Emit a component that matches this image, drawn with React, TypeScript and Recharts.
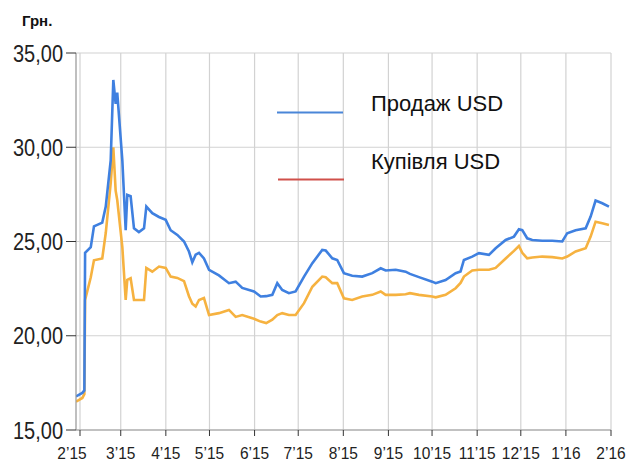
import React from "react";
import { LineChart, Line, XAxis, YAxis, CartesianGrid } from "recharts";

// days since 1 Feb 2015
const days = [
  -2.75, 1.6, 3, 3.5, 7.4, 9.6, 15.3, 17.7, 21.1, 22.9, 24.5, 25.6, 29.1, 31.4, 32.5, 34.8,
  37.1, 40.5, 44, 45.6, 49.7, 54.3, 58.9, 62.3, 66.9, 71.5, 74.9, 77.2, 79.5, 81.8, 85.2,
  88.7, 95.5, 102.4, 107, 111.5, 119.6, 124.2, 128, 132.2, 135.6, 139, 143.6, 148.2, 154,
  159.7, 166.5, 168.9, 173.4, 176.8, 181.4, 187.1, 194, 200.9, 206.7, 210.1, 217, 223.8,
  226.8, 233, 242.1, 244.5, 251.3, 258.2, 261.6, 263.9, 269.6, 274.2, 281.1, 285.7, 292.6,
  298.3, 301.7, 304, 307.4, 310.9, 317.7, 324.6, 331.5, 334.9, 340.7, 347.6, 351, 354.4,
  359, 363.6,
];

// Продаж USD
const sale = [
  16.78, 16.97, 17.1, 24.4, 24.7, 25.8, 26.0, 26.85, 29.3, 33.57, 32.3, 32.9, 29.3, 25.6,
  27.47, 27.4, 25.7, 25.5, 25.7, 26.85, 26.5, 26.3, 26.15, 25.6, 25.35, 25.0, 24.47, 23.9,
  24.3, 24.4, 24.1, 23.5, 23.2, 22.79, 22.87, 22.54, 22.35, 22.08, 22.1, 22.17, 22.79, 22.43,
  22.26, 22.35, 23.14, 23.85, 24.55, 24.52, 24.11, 24.02, 23.32, 23.18, 23.14, 23.32, 23.58,
  23.46, 23.5, 23.4, 23.28, 23.11, 22.87, 22.79, 22.96, 23.32, 23.41, 24.02, 24.2, 24.38,
  24.29, 24.64, 25.08, 25.26, 25.65, 25.6, 25.17, 25.08, 25.04, 25.04, 25.0, 25.44, 25.6,
  25.7, 26.32, 27.17, 27.03, 26.85,
];

// Купівля USD
const buy = [
  16.5, 16.7, 16.9, 21.9, 23.1, 24.0, 24.1, 25.45, 28.1, 30.0, 27.7, 27.2, 24.7, 21.9,
  22.96, 23.05, 21.9, 21.9, 21.9, 23.6, 23.4, 23.67, 23.6, 23.14, 23.07, 22.9, 22.1, 21.7,
  21.55, 21.9, 22.0, 21.1, 21.2, 21.37, 21.0, 21.1, 20.9, 20.75, 20.67, 20.85, 21.1, 21.2,
  21.1, 21.1, 21.73, 22.6, 23.14, 23.1, 22.79, 22.79, 21.99, 21.9, 22.08, 22.17, 22.35,
  22.17, 22.17, 22.2, 22.26, 22.17, 22.08, 22.04, 22.17, 22.52, 22.8, 23.14, 23.46, 23.5,
  23.5, 23.6, 24.1, 24.5, 24.76, 24.4, 24.11, 24.15, 24.2, 24.17, 24.1, 24.2, 24.47, 24.64,
  25.26, 26.05, 25.97, 25.88,
];

const monthTicks = [0, 28, 59, 89, 120, 150, 181, 212, 242, 273, 303, 334, 365];
const monthLabels = [
  "2’15", "3’15", "4’15", "5’15", "6’15", "7’15", "8’15", "9’15", "10’15", "11’15", "12’15", "1’16", "2’16",
];
const yTicks = [15, 20, 25, 30, 35];
const yLabels = ["15,00", "20,00", "25,00", "30,00", "35,00"];

const seriesNames = ["Продаж USD", "Купівля USD"];
const unitLabel = "Грн.";

const data = days.map((d, i) => ({ d, sale: sale[i], buy: buy[i] }));

const font = "'Liberation Sans', Arial, sans-serif";

function YTick(props: any) {
  const { x, y, payload } = props;
  const i = yTicks.indexOf(payload.value);
  return (
    <g transform={`translate(${x},${y + 8.5}) scale(1,1.19)`}>
      <text x={0} y={0} textAnchor="end" fontSize={20} fontFamily={font} fill="#222">
        {yLabels[i]}
      </text>
    </g>
  );
}

function XTick(props: any) {
  const { x, y, payload } = props;
  const i = monthTicks.indexOf(payload.value);
  const shift = i === 0 ? -8 : 0;
  return (
    <g transform={`translate(${x + shift},${y + 20.5}) scale(1,1.12)`}>
      <text x={0} y={0} textAnchor="middle" fontSize={15.5} fontFamily={font} fill="#222">
        {monthLabels[i]}
      </text>
    </g>
  );
}

export default function App() {
  return (
    <div style={{ position: "absolute", left: 0, top: 0, width: 627, height: 463, background: "#fff" }}>
      <LineChart width={627} height={463} data={data} margin={{ top: 53, right: 16, left: 0, bottom: 0 }}>
        <CartesianGrid stroke="#d2d2d2" strokeWidth={1.2} />
        <XAxis
          dataKey="d"
          type="number"
          domain={[-2.75, 365]}
          ticks={monthTicks}
          allowDataOverflow
          height={33}
          tickSize={6}
          tickMargin={2}
          stroke="#9a9a9a"
          tickLine={{ stroke: "#333" }}
          tick={<XTick />}
        />
        <YAxis
          type="number"
          domain={[15, 35]}
          ticks={yTicks}
          width={76}
          tickSize={10}
          tickMargin={3}
          stroke="#9a9a9a"
          tickLine={{ stroke: "#333" }}
          tick={<YTick />}
        />
        <Line
          type="linear"
          dataKey="buy"
          name={seriesNames[1]}
          stroke="#f6b240"
          strokeWidth={2.6}
          dot={false}
          isAnimationActive={false}
        />
        <Line
          type="linear"
          dataKey="sale"
          name={seriesNames[0]}
          stroke="#3f80e0"
          strokeWidth={2.6}
          dot={false}
          isAnimationActive={false}
        />
      </LineChart>
      <svg width={627} height={463} style={{ position: "absolute", left: 0, top: 0, pointerEvents: "none" }}>
        <text x={22} y={26} fontSize={15} fontWeight="bold" fontFamily={font} fill="#111">
          {unitLabel}
        </text>
        <line x1={277} x2={343} y1={112.5} y2={112.5} stroke="#4a86d8" strokeWidth={2.2} />
        <text x={371} y={111} fontSize={22} fontFamily={font} fill="#111">
          {seriesNames[0]}
        </text>
        <line x1={278} x2={344} y1={179.5} y2={179.5} stroke="#d0504a" strokeWidth={2.2} />
        <text x={371} y={169} fontSize={22} fontFamily={font} fill="#111">
          {seriesNames[1]}
        </text>
      </svg>
    </div>
  );
}
